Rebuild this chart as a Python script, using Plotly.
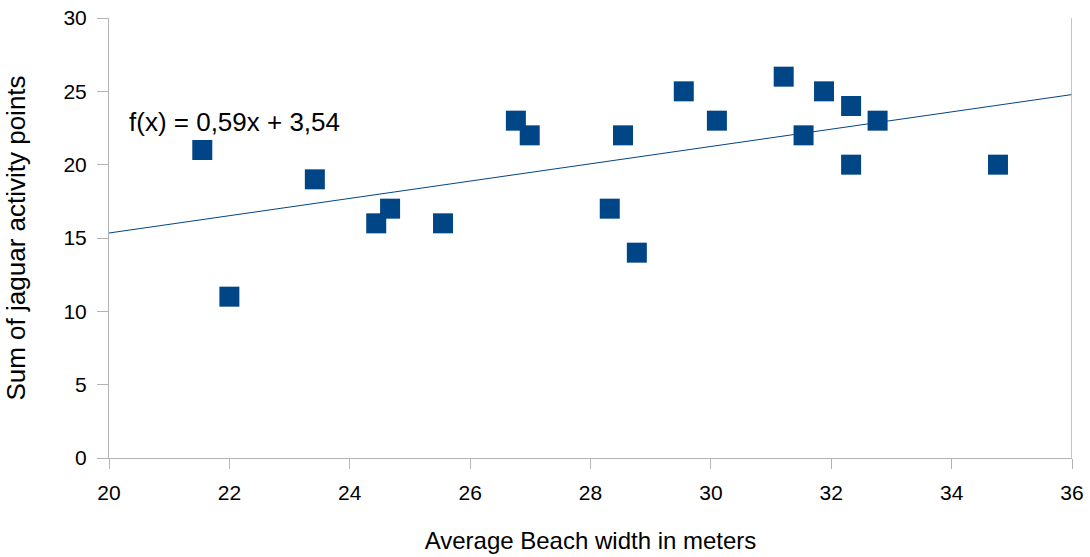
import plotly.graph_objects as go

beach_width = [21.55, 22.0, 23.42, 24.44, 24.67, 25.55, 26.76, 26.99, 28.32, 28.54,
               28.77, 29.55, 30.1, 31.21, 31.54, 31.88, 32.33, 32.33, 32.77, 34.77]
activity = [21, 11, 19, 16, 17, 16, 23, 22, 17, 22,
            14, 25, 23, 26, 22, 25, 24, 20, 23, 20]
slope = 0.59
intercept = 3.54
trend_x = [20, 36]
trend_y = [slope * v + intercept for v in trend_x]

COLOR = "#004586"
GRID = "#b3b3b3"
FONT = "Liberation Sans, Arial, sans-serif"

fig = go.Figure()
fig.add_trace(go.Scatter(x=trend_x, y=trend_y, mode="lines",
                         line=dict(color=COLOR, width=1), hoverinfo="skip"))
fig.add_trace(go.Scatter(x=beach_width, y=activity, mode="markers",
                         marker=dict(symbol="square", size=20, color=COLOR,
                                     line=dict(width=0))))

fig.add_annotation(x=20.3, y=22.9, xref="x", yref="y", text="f(x) = 0,59x + 3,54",
                   showarrow=False, xanchor="left", yanchor="middle",
                   font=dict(family=FONT, size=26, color="black"))

fig.update_layout(
    width=1090, height=557,
    margin=dict(l=109, r=18, t=18, b=99),
    paper_bgcolor="white", plot_bgcolor="white",
    showlegend=False,
    font=dict(family=FONT, color="black"),
    xaxis=dict(range=[20, 36], tickvals=list(range(20, 37, 2)),
               automargin=False,
               showgrid=False, zeroline=False, showline=True, linecolor=GRID, linewidth=1,
               mirror=False, ticks="outside", ticklen=10, tickcolor=GRID,
               ticklabelstandoff=6,
               tickfont=dict(size=21, family=FONT),
               title=dict(text="Average Beach width in meters", font=dict(size=24, family=FONT),
                          standoff=28)),
    yaxis=dict(range=[0, 30], tickvals=list(range(0, 31, 5)),
               automargin=False,
               showgrid=False, zeroline=False, showline=True, linecolor=GRID, linewidth=1,
               ticks="outside", ticklen=11, tickcolor=GRID,
               ticklabelstandoff=6,
               tickfont=dict(size=21, family=FONT),
               title=dict(text="Sum of jaguar activity points", font=dict(size=26, family=FONT),
                          standoff=30)),
)
fig.add_shape(type="line", xref="x", yref="paper", x0=36, x1=36, y0=0, y1=1,
              line=dict(color=GRID, width=1.5))

fig.write_html("out.html")
